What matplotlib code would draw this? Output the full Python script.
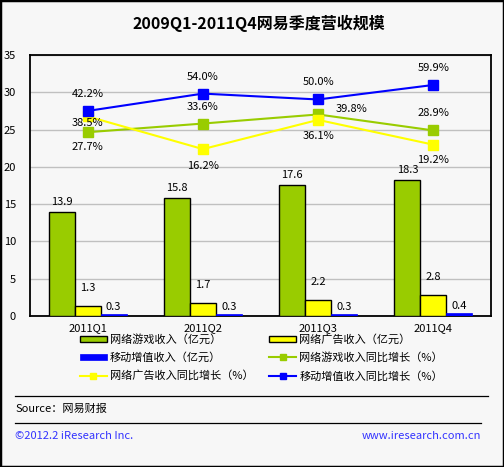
import matplotlib
matplotlib.use("Agg")
import matplotlib.pyplot as plt
from matplotlib.lines import Line2D
from matplotlib.patches import Patch, Rectangle
import numpy as np

plt.rcParams['font.family'] = ['Noto Sans CJK SC', 'DejaVu Sans']

categories = ['2011Q1', '2011Q2', '2011Q3', '2011Q4']
game_rev = [13.9, 15.8, 17.6, 18.3]
ad_rev = [1.3, 1.7, 2.2, 2.8]
mobile_rev = [0.3, 0.3, 0.3, 0.4]
game_yoy = [27.7, 33.6, 39.8, 28.9]
ad_yoy = [38.5, 16.2, 36.1, 19.2]
mobile_yoy = [42.2, 54.0, 50.0, 59.9]

title = '2009Q1-2011Q4网易季度营收规模'
legend_labels = ['网络游戏收入（亿元）', '网络广告收入（亿元）', '移动增值收入（亿元）',
                 '网络游戏收入同比增长（%）', '网络广告收入同比增长（%）', '移动增值收入同比增长（%）']

GREEN = '#99cc00'
YELLOW = '#ffff00'
BLUE = '#0000ff'
BG = '#f7f7f7'

W, H = 504, 467
fig = plt.figure(figsize=(W / 100, H / 100), dpi=100, facecolor=BG)

def fx(px):
    return px / W

def fy(py):
    return 1 - py / H

PX = 0.72  # points per pixel

ax = fig.add_axes([fx(30), fy(316), fx(491) - fx(30), fy(55) - fy(316)])
ax.set_facecolor(BG)
x = np.arange(len(categories))
bw = 0.226
ax.bar(x - bw, game_rev, bw, color=GREEN, edgecolor='black', linewidth=1, zorder=3)
ax.bar(x, ad_rev, bw, color=YELLOW, edgecolor='black', linewidth=1, zorder=3)
ax.bar(x + bw, mobile_rev, bw, color=BLUE, edgecolor=BLUE, linewidth=0.5, zorder=3)

ax.set_ylim(0, 35)
ax.set_xlim(-0.5, len(categories) - 0.5)
ax.set_yticks(range(0, 36, 5))
ax.set_xticks(x)
ax.set_xticklabels(categories)
ax.tick_params(axis='both', length=0, labelsize=8)
ax.tick_params(axis='y', pad=10)
ax.tick_params(axis='x', pad=5)
for lbl in ax.get_yticklabels():
    lbl.set_horizontalalignment('right')
ax.yaxis.grid(True, color='#c0c0c0', linewidth=1, zorder=0)
ax.set_axisbelow(True)
for s in ax.spines.values():
    s.set_linewidth(1.3)
    s.set_color('black')

for i in range(len(categories)):
    ax.annotate(f'{game_rev[i]:.1f}', (x[i] - bw, game_rev[i]), xytext=(0, 10 * PX),
                textcoords='offset points', ha='center', va='center', fontsize=8, zorder=6)
    ax.annotate(f'{ad_rev[i]:.1f}', (x[i], ad_rev[i]), xytext=(0, 18 * PX),
                textcoords='offset points', ha='center', va='center', fontsize=8, zorder=6)
    ax.annotate(f'{mobile_rev[i]:.1f}', (x[i] + bw, mobile_rev[i]), xytext=(0, 7 * PX),
                textcoords='offset points', ha='center', va='center', fontsize=8, zorder=6)

ax2 = ax.twinx()
ax2.set_ylim(-97.5, 80.3)
ax2.set_axis_off()
ms = 6.8
ax2.plot(x, game_yoy, color=GREEN, lw=1.5, marker='s', ms=ms, zorder=4)
ax2.plot(x, ad_yoy, color=YELLOW, lw=1.5, marker='s', ms=ms, zorder=4)
ax2.plot(x, mobile_yoy, color=BLUE, lw=1.5, marker='s', ms=ms, zorder=4)

green_off = [(0, -15), (0, 17), (33, 5), (0, 17)]
yellow_off = [(0, -7), (0, -17), (0, -16), (0, -15)]
blue_off = [(0, 17), (0, 17), (0, 17), (0, 17)]
for vals, offs in ((game_yoy, green_off), (ad_yoy, yellow_off), (mobile_yoy, blue_off)):
    for i, v in enumerate(vals):
        ax2.annotate(f'{v:.1f}%', (x[i], v), xytext=(offs[i][0] * PX, offs[i][1] * PX),
                     textcoords='offset points', ha='center', va='center', fontsize=8, zorder=6)

fig.text(fx(259), fy(23), title, ha='center', va='center', fontsize=11.5, fontweight='bold')

handles = [
    Patch(facecolor=GREEN, edgecolor='black', linewidth=1),
    Patch(facecolor=YELLOW, edgecolor='black', linewidth=1),
    Patch(facecolor=BLUE, edgecolor=BLUE, linewidth=0.5),
    Line2D([], [], color=GREEN, lw=1.5, marker='s', ms=5),
    Line2D([], [], color=YELLOW, lw=1.5, marker='s', ms=5),
    Line2D([], [], color=BLUE, lw=1.5, marker='s', ms=5),
]
order = [0, 2, 4, 1, 3, 5]
fig.legend([handles[i] for i in order], [legend_labels[i] for i in order],
           ncol=2, loc='upper left', bbox_to_anchor=(fx(80), fy(334)),
           frameon=False, fontsize=8, handlelength=2.4, handleheight=0.55,
           handletextpad=0.3, columnspacing=1.4, labelspacing=0.68, borderpad=0,
           borderaxespad=0)

fig.add_artist(Line2D([fx(15), fx(488)], [fy(396), fy(396)], color='black', lw=0.9))
fig.add_artist(Line2D([fx(15), fx(481)], [fy(423), fy(423)], color='black', lw=0.9))
fig.text(fx(15), fy(409), 'Source：网易财报', ha='left', va='center', fontsize=8)
fig.text(fx(15), fy(436), '©2012.2 iResearch Inc.', ha='left', va='center', fontsize=8, color='#3333ff')
fig.text(fx(481), fy(436), 'www.iresearch.com.cn', ha='right', va='center', fontsize=8, color='#3333ff')

fig.add_artist(Rectangle((0, 0), 1, 1, transform=fig.transFigure, fill=False,
                         edgecolor='black', linewidth=2.5))

fig.savefig('out.png', dpi=100, facecolor=BG)
